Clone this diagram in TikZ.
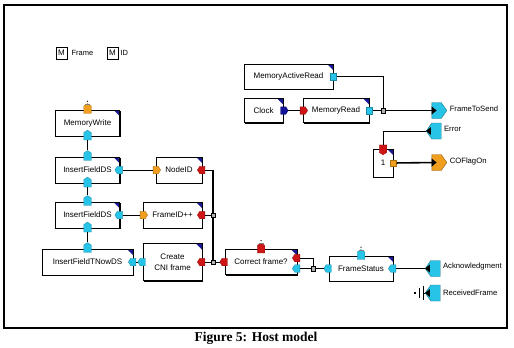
\documentclass[tikz,border=0pt]{standalone}
\usepackage{fontspec}
\setmainfont{Liberation Serif}
\setsansfont{Liberation Sans}
\usetikzlibrary{arrows.meta,shapes.geometric,shapes.symbols,shadows}
\definecolor{portcyan}{RGB}{40,196,232}
\definecolor{portorange}{RGB}{240,158,30}
\definecolor{portred}{RGB}{206,22,22}
\definecolor{portblue}{RGB}{20,20,150}
\definecolor{cornerblue}{RGB}{26,26,150}

\begin{document}
\begin{tikzpicture}[x=1pt,y=-1pt]
\tikzset{
  block/.style={draw,fill=white,line width=0.6pt,inner sep=1pt,align=center,
    font=\sffamily\fontsize{8}{11}\selectfont,
    drop shadow={shadow xshift=1.2pt,shadow yshift=-1.2pt,opacity=1,fill=black},
    path picture={\fill[cornerblue] (path picture bounding box.north east) -- ++(-6pt,0) -- ++(6pt,-6pt) -- cycle;}},
  legendbox/.style={draw,fill=white,line width=0.7pt,minimum width=11pt,minimum height=12pt,inner sep=0pt,
    font=\sffamily\fontsize{8}{9}\selectfont,
    drop shadow={shadow xshift=0.8pt,shadow yshift=-0.8pt,opacity=1,fill=black}},
  legendtext/.style={inner sep=1pt,font=\sffamily\fontsize{7.5}{9}\selectfont},
  port/.style={signal,signal to=#1,signal pointer angle=115,minimum width=7.5pt,minimum height=7.5pt,
    inner sep=0pt,line width=0.3pt},
  pup/.style={port=north,draw=#1!70!black,fill=#1},
  pleft/.style={port=west,draw=#1!70!black,fill=#1},
  pright/.style={port=east,draw=#1!70!black,fill=#1},
  pdown/.style={port=south,draw=#1!70!black,fill=#1},
  sqport/.style={rectangle,minimum size=6.5pt,inner sep=0pt,draw=#1!70!black,line width=0.3pt,fill=#1},
  bigport/.style={signal,signal to=#1,signal pointer angle=110,minimum width=15pt,minimum height=16pt,
    inner sep=0pt,draw=portcyan!60!black,line width=0.4pt,fill=portcyan},
  portlabel/.style={inner sep=1pt,font=\sffamily\fontsize{7.7}{9}\selectfont},
  junction/.style={rectangle,draw,fill=gray!60,line width=0.5pt,minimum size=4.5pt,inner sep=0pt},
  wire/.style={line width=0.8pt},
  bus/.style={line width=2.2pt},
  tip/.style={-{Triangle[length=5pt,width=8pt]},shorten >=-5pt}
}
\useasboundingbox (0,0) rectangle (514,348);
\draw[line width=1.4pt] (4,5) rectangle (507,328);

% legend
\node[legendbox] (lg_frame) at (61.5,53) {M};
\node[legendtext,anchor=west] (lg_frame_t) at ([xshift=3pt]lg_frame.east) {Frame};
\node[legendbox] (lg_id) at (112.5,53) {M};
\node[legendtext,anchor=west] (lg_id_t) at ([xshift=1pt]lg_id.east) {ID};

% blocks
\node[block,minimum width=64pt,minimum height=26pt] (mw) at (87.5,123) {MemoryWrite};
\node[block,minimum width=64pt,minimum height=26pt] (ifa) at (87.5,170) {InsertFieldDS};
\node[block,minimum width=64pt,minimum height=26pt] (ifb) at (87.5,215) {InsertFieldDS};
\node[block,minimum width=91pt,minimum height=26pt] (ift) at (87.5,262) {InsertFieldTNowDS};
\node[block,minimum width=46pt,minimum height=26pt] (nid) at (179,170) {NodeID};
\node[block,minimum width=59pt,minimum height=26pt] (fid) at (172.5,215) {FrameID++};
\node[block,minimum width=59pt,minimum height=37pt] (cni) at (172.5,262) {Create\\CNI frame};
\node[block,minimum width=72pt,minimum height=25pt] (cf) at (261,262) {Correct frame?};
\node[block,minimum width=64pt,minimum height=25pt] (fs) at (361,268.5) {FrameStatus};
\node[block,minimum width=89pt,minimum height=25pt] (mar) at (288.5,76.5) {MemoryActiveRead};
\node[block,minimum width=39pt,minimum height=24pt] (clk) at (263.5,110.5) {Clock};
\node[block,minimum width=66pt,minimum height=24pt] (mr) at (336,110.5) {MemoryRead};
\node[block,minimum width=20pt,minimum height=28pt] (one) at (383,163) {1};

% ports on the blocks
\node[pup=portorange] (mw_t) at (mw.north) {};
\node[pup=portcyan] (mw_b) at (mw.south) {};
\node[pup=portcyan] (ifa_t) at (ifa.north) {};
\node[pup=portcyan] (ifa_b) at (ifa.south) {};
\node[pleft=portcyan] (ifa_r) at (ifa.east) {};
\node[pup=portcyan] (ifb_t) at (ifb.north) {};
\node[pup=portcyan] (ifb_b) at (ifb.south) {};
\node[pleft=portcyan] (ifb_r) at (ifb.east) {};
\node[pup=portcyan] (ift_t) at (ift.north) {};
\node[pleft=portcyan] (ift_r) at (ift.east) {};
\node[pright=portorange] (nid_l) at (nid.west) {};
\node[pleft=portred] (nid_r) at (nid.east) {};
\node[pright=portorange] (fid_l) at (fid.west) {};
\node[pleft=portred] (fid_r) at (fid.east) {};
\node[pleft=portcyan] (cni_l) at (cni.west) {};
\node[pleft=portred] (cni_r) at (cni.east) {};
\node[pleft=portred] (cf_l) at (cf.west) {};
\node[pup=portred] (cf_t) at (cf.north) {};
\node[pleft=portred] (cf_r1) at ([yshift=4pt]cf.east) {};
\node[pleft=portcyan] (cf_r2) at ([yshift=-6.5pt]cf.east) {};
\node[pleft=portcyan] (fs_l) at (fs.west) {};
\node[pup=portcyan] (fs_t) at (fs.north) {};
\node[pleft=portcyan] (fs_r) at (fs.east) {};
\node[sqport=portcyan] (mar_r) at (mar.east) {};
\node[pright=portblue] (clk_r) at (clk.east) {};
\node[pright=portred] (mr_l) at (mr.west) {};
\node[sqport=portcyan] (mr_r) at (mr.east) {};
\node[pdown=portred] (one_t) at (one.north) {};
\node[sqport=portorange] (one_r) at (one.east) {};

% small marks above the top ports
\foreach \p in {mw_t,cf_t,fs_t} {
  \fill ([yshift=8.5pt]\p.center) circle (0.7pt);
  \draw[line width=0.5pt,gray] ([xshift=-2.5pt,yshift=5.5pt]\p.center) -- ([xshift=2.5pt,yshift=5.5pt]\p.center);
}

% outer ports
\node[bigport=east] (fts) at (436.5,110.5) {};
\node[bigport=west] (err) at (436.5,131) {};
\node[bigport=east,fill=portorange,draw=portorange!60!black] (cof) at (436.5,162.5) {};
\node[bigport=west] (ack) at (435.5,268.5) {};
\node[bigport=west] (rcv) at (435.5,293) {};
\node[portlabel,anchor=base west] at ([xshift=1.5pt,yshift=-1pt]fts.east) {FrameToSend};
\node[portlabel,anchor=base west] at ([xshift=1.5pt,yshift=0pt]err.east) {Error};
\node[portlabel,anchor=base west] at ([xshift=1.5pt,yshift=-1pt]cof.east) {COFlagOn};
\node[portlabel,anchor=base west] at ([xshift=1.5pt,yshift=0pt]ack.east) {Acknowledgment};
\node[portlabel,anchor=base west] at ([xshift=1.5pt,yshift=-2pt]rcv.east) {ReceivedFrame};
\foreach \p in {err,ack,rcv} {
  \fill (\p.west) -- ++(5,-4) -- ++(0,8) -- cycle;
}

% junctions
\node[junction] (j_mr) at (383,110.5) {};
\node[junction] (j_fid) at (213,215) {};
\node[junction] (j_cni) at (213,262) {};
\node[junction] (j_cf) at (313,268.5) {};
\coordinate (bustop) at (213,170);

% ReceivedFrame stub
\node[rectangle,fill=black,minimum size=2.6pt,inner sep=0pt] (rcv_end) at (415,293) {};
\draw[line width=0.7pt] (419,288) -- (419,298);
\draw[line width=1.6pt] (423.5,286) -- (423.5,300);
\coordinate (rcv_stub) at (423.5,293);

% connectors
\draw[wire] (mw_b) -- (ifa_t);
\draw[wire] (ifa_b) -- (ifb_t);
\draw[wire] (ifb_b) -- (ift_t);
\draw[wire] (ifa_r) -- (nid_l);
\draw[wire] (ifb_r) -- (fid_l);
\draw[wire] (ift_r) -- (cni_l);
\draw[wire] (nid_r) -- (bustop);
\draw[bus] (bustop) -- (j_fid);
\draw[bus] (j_fid) -- (j_cni);
\draw[wire] (fid_r) -- (j_fid);
\draw[wire] (cni_r) -- (j_cni);
\draw[wire] (j_cni) -- (cf_l);
\draw[wire] (cf_r1) -| (j_cf);
\draw[wire] (cf_r2) -- (j_cf);
\draw[wire] (j_cf) -- (fs_l);
\draw[wire] (fs_r) -- (ack);
\draw[wire] (rcv_stub) -- (rcv);
\draw[wire] (clk_r) -- (mr_l);
\draw[wire] (mr_r) -- (j_mr);
\draw[wire] (mar_r) -| (j_mr);
\draw[wire,tip] (j_mr) -- (fts);
\draw[wire] (err) -| (one_t);
\draw[line width=1.6pt,tip] (one_r) -- (cof);

% caption
\node[font=\rmfamily\bfseries\fontsize{13.5}{16}\selectfont] (caption) at (256,338) {Figure 5: Host model};
\end{tikzpicture}
\end{document}
